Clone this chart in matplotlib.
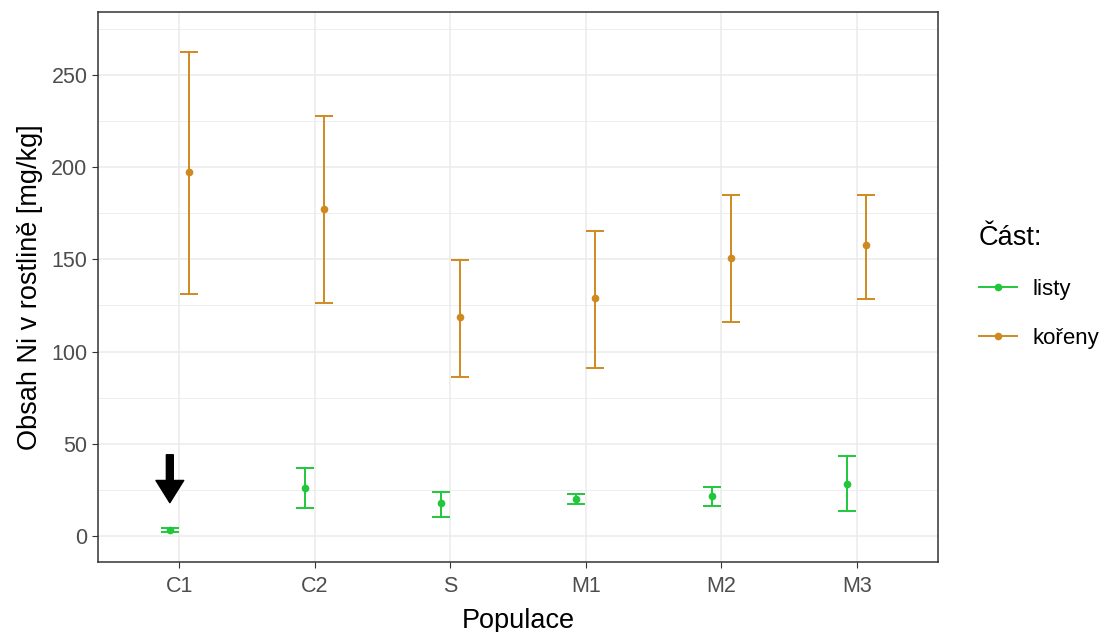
import matplotlib.pyplot as plt
from matplotlib.lines import Line2D
import numpy as np

plt.rcParams['font.family'] = ['Liberation Sans', 'DejaVu Sans']

# data
populace = ['C1', 'C2', 'S', 'M1', 'M2', 'M3']
listy_mean = [3.3, 26.0, 17.9, 20.0, 21.7, 28.2]
listy_low = [2.3, 15.2, 10.3, 17.4, 16.3, 13.6]
listy_high = [4.3, 36.9, 23.9, 22.8, 26.6, 43.4]
koreny_mean = [197.4, 177.3, 118.8, 129.1, 150.8, 157.8]
koreny_low = [131.2, 126.4, 86.2, 91.1, 116.1, 128.5]
koreny_high = [262.5, 227.8, 149.7, 165.4, 184.9, 184.9]

c_listy = '#1ec83a'
c_koreny = '#cf8a1f'

fig = plt.figure(figsize=(11.09, 6.32), dpi=100)
ax = fig.add_axes([0.0884, 0.111, 0.7574, 0.870])

x = np.arange(len(populace))
dodge = 0.07

for xs, m, lo, hi, c in [
    (x - dodge, listy_mean, listy_low, listy_high, c_listy),
    (x + dodge, koreny_mean, koreny_low, koreny_high, c_koreny),
]:
    m = np.array(m)
    err = [m - np.array(lo), np.array(hi) - m]
    ax.errorbar(xs, m, yerr=err, fmt='o', color=c, ecolor=c, elinewidth=1.4,
                capsize=6.5, capthick=1.4, markersize=4.5)

# sipka na C1 listy
ax.annotate('', xy=(x[0] - dodge, 18), xytext=(x[0] - dodge, 44),
            arrowprops=dict(facecolor='black', edgecolor='black', width=5,
                            headwidth=20, headlength=16))

ax.set_xlim(-0.6, len(populace) - 0.4)
ax.set_ylim(-14.1, 284.2)
ax.set_xticks(x)
ax.set_xticklabels(populace)
ax.set_yticks([0, 50, 100, 150, 200, 250])
ax.set_yticks([25, 75, 125, 175, 225, 275], minor=True)
ax.grid(which='major', color='#ebebeb', linewidth=1.1)
ax.grid(which='minor', axis='y', color='#ebebeb', linewidth=0.6)
ax.set_axisbelow(True)
ax.tick_params(which='minor', length=0)
ax.tick_params(which='major', length=4, color='#333333', labelsize=15.5,
               labelcolor='#4d4d4d')
ax.tick_params(axis='x', pad=6)
for s in ax.spines.values():
    s.set_color('#333333')
    s.set_linewidth(1.1)

ax.set_xlabel('Populace', fontsize=19.5, labelpad=8)
ax.set_ylabel('Obsah Ni v rostlině [mg/kg]', fontsize=19.5, labelpad=6)

handles = [Line2D([], [], color=c_listy, marker='o', markersize=4.5, lw=1.4),
           Line2D([], [], color=c_koreny, marker='o', markersize=4.5, lw=1.4)]
leg = ax.legend(handles, ['listy', 'kořeny'], title='Část:', loc='center left',
                bbox_to_anchor=(1.025, 0.5), frameon=False, fontsize=16,
                title_fontsize=19.5, handlelength=1.7, labelspacing=1.25,
                handletextpad=0.7)
leg._legend_box.align = 'left'

fig.savefig('out.png', dpi=100)
